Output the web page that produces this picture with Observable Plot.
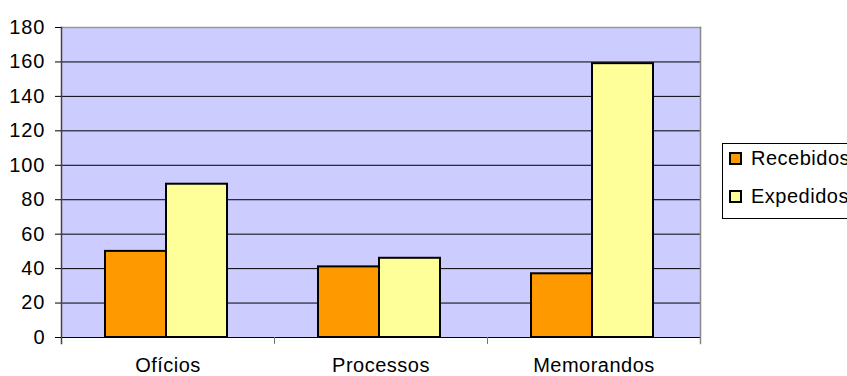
<!DOCTYPE html>
<html><head><meta charset="utf-8">
<script src="https://cdn.jsdelivr.net/npm/d3@7"></script>
<script src="https://cdn.jsdelivr.net/npm/@observablehq/plot@0.6"></script>
<style>
html,body{margin:0;padding:0;background:#fff;overflow:hidden;}
#wrap{position:relative;width:847px;height:376px;overflow:hidden;font-family:"Liberation Sans",Arial,sans-serif;}
g[aria-label="y-axis tick label"] text{letter-spacing:1px;}
g[aria-label="fx-axis tick label"] text{letter-spacing:0.5px;}
.legend{position:absolute;left:722px;top:143px;width:160px;height:76px;border:1px solid #000;box-sizing:border-box;background:#fff;}
.item{position:absolute;left:6px;height:24px;display:flex;align-items:center;font-size:20px;letter-spacing:0.5px;color:#000;white-space:nowrap;}
.sw{width:13px;height:13px;border:2px solid #000;box-sizing:border-box;margin-right:9px;}
</style></head><body><div id="wrap"></div>
<script>
const categories = ["Ofícios", "Processos", "Memorandos"];
const series = ["Recebidos", "Expedidos"];
const recebidos = [50, 41, 37];
const expedidos = [89, 46, 159];
const colors = ["#ff9900", "#ffff99"];
const yTicks = [0, 20, 40, 60, 80, 100, 120, 140, 160, 180];

const data = categories.flatMap((c, i) => [
  {category: c, series: series[0], value: recebidos[i]},
  {category: c, series: series[1], value: expedidos[i]}
]);

const chart = Plot.plot({
  width: 847, height: 376,
  marginLeft: 60, marginRight: 147, marginTop: 27, marginBottom: 39,
  style: {fontFamily: '"Liberation Sans", Arial, sans-serif', fontSize: "20px", color: "#000", background: "#fff", overflow: "visible"},
  fx: {domain: categories, padding: 0, label: null, axis: null},
  x: {domain: series, paddingInner: 0, paddingOuter: 0.73, align: 0.485, axis: null},
  y: {domain: [0, 180], axis: null},
  color: {domain: series, range: colors},
  marks: [
    Plot.frame({facet: "super", fill: "#ccccff"}),
    Plot.gridY(yTicks.filter(t => t > 0 && t < 180), {stroke: "#000", strokeOpacity: 1}),
    Plot.barY(data, {fx: "category", x: "series", y: "value", fill: "series", stroke: "#000", strokeWidth: 2}),
    Plot.ruleY([0], {stroke: "#000"}),
    Plot.frame({facet: "super", anchor: "top", stroke: "#999", strokeWidth: 1.5}),
    Plot.frame({anchor: "left", insetTop: 310, insetBottom: -6, stroke: "#777"}),
    Plot.frame({facet: "super", anchor: "left", insetBottom: -6, stroke: "#444", strokeWidth: 1.5}),
    Plot.frame({facet: "super", anchor: "right", insetBottom: -6, stroke: "#888", strokeWidth: 1.5}),
    Plot.axisY(yTicks, {anchor: "left", tickSize: 6, tickPadding: 10, fontSize: 20, stroke: "#000", fill: "#000", label: null}),
    Plot.axisFx({anchor: "bottom", tickSize: 0, tickPadding: 20, fontSize: 20, fill: "#000", label: null})
  ]
});
const wrap = document.getElementById("wrap");
wrap.appendChild(chart);

const legend = document.createElement("div");
legend.className = "legend";
series.forEach((s, i) => {
  const it = document.createElement("div");
  it.className = "item";
  it.style.top = (2 + i * 38) + "px";
  const sw = document.createElement("span");
  sw.className = "sw";
  sw.style.background = colors[i];
  it.appendChild(sw);
  it.appendChild(document.createTextNode(s));
  legend.appendChild(it);
});
wrap.appendChild(legend);
</script></body></html>
